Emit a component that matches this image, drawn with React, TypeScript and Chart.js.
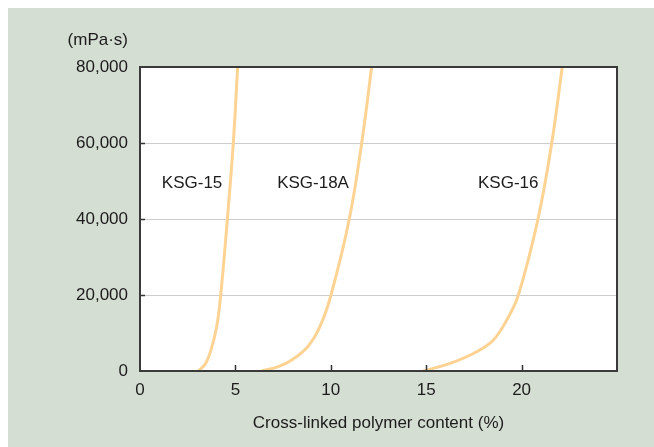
import React, { useEffect, useRef } from "react";
import { Chart, registerables } from "chart.js";

Chart.register(...registerables);

const ksg15X = [3.06, 3.44, 3.72, 4.02, 4.23, 4.58, 4.89, 5.12];
const ksg15Y = [0, 2000, 5500, 11700, 20000, 40000, 60000, 80000];
const ksg18aX = [6.38, 7.25, 7.95, 8.79, 9.43, 10.01, 10.97, 11.62, 12.14];
const ksg18aY = [0, 1130, 2900, 6400, 11660, 20000, 40000, 60000, 80000];
const ksg16X = [14.85, 16.25, 17.65, 18.52, 19.22, 19.83, 20.86, 21.58, 22.13];
const ksg16Y = [0, 2000, 5080, 8160, 13400, 20000, 40000, 60000, 80000];

const seriesNames = ["KSG-15", "KSG-18A", "KSG-16"];
const labelX = [2.73, 9.07, 19.3];
const labelY = [49500, 49500, 49500];

const xTickValues = [0, 5, 10, 15, 20];
const yTickValues = [0, 20000, 40000, 60000, 80000];
const unitLabel = "(mPa·s)";
const xTitle = "Cross-linked polymer content (%)";

const FONT = '"Liberation Sans", Arial, sans-serif';
const FONT_SIZE = 17;
const LINE_COLOR = "#fdd393";
const TEXT_COLOR = "#1c1c1c";

const toPoints = (xs: number[], ys: number[]) => xs.map((x, i) => ({ x, y: ys[i] }));

export default function App() {
  const ref = useRef<HTMLCanvasElement | null>(null);

  useEffect(() => {
    if (!ref.current) return;
    const decor = {
      id: "decor",
      beforeDraw(chart: any) {
        const { ctx, chartArea: a } = chart;
        ctx.save();
        ctx.fillStyle = "#ffffff";
        ctx.fillRect(a.left, a.top, a.right - a.left, a.bottom - a.top);
        ctx.restore();
      },
      afterDatasetsDraw(chart: any) {
        const { ctx, chartArea: a, scales } = chart;
        const xs = scales.x;
        const ys = scales.y;
        ctx.save();
        ctx.strokeStyle = "#333333";
        ctx.lineWidth = 1.5;
        xTickValues.forEach((v) => {
          if (v === 0) return;
          const px = Math.round(xs.getPixelForValue(v)) + 0.5;
          ctx.beginPath();
          ctx.moveTo(px, a.bottom);
          ctx.lineTo(px, a.bottom - 6);
          ctx.stroke();
        });
        yTickValues.forEach((v) => {
          if (v === 0 || v === 80000) return;
          const py = Math.round(ys.getPixelForValue(v)) + 0.5;
          ctx.beginPath();
          ctx.moveTo(a.left, py);
          ctx.lineTo(a.left + 5, py);
          ctx.stroke();
        });
        ctx.strokeStyle = "#3a3a3a";
        ctx.lineWidth = 2;
        ctx.strokeRect(a.left, a.top, a.right - a.left, a.bottom - a.top);
        ctx.fillStyle = TEXT_COLOR;
        ctx.font = `${FONT_SIZE}px ${FONT}`;
        ctx.textAlign = "center";
        ctx.textBaseline = "middle";
        seriesNames.forEach((n, i) => {
          ctx.fillText(n, xs.getPixelForValue(labelX[i]), ys.getPixelForValue(labelY[i]));
        });
        ctx.textAlign = "right";
        ctx.fillText(unitLabel, a.left - 12, a.top - 27);
        ctx.textAlign = "center";
        ctx.fillText(xTitle, (a.left + a.right) / 2, 415);
        ctx.restore();
      },
    };

    const chart = new Chart(ref.current, {
      type: "line",
      data: {
        datasets: [
          { label: seriesNames[0], data: toPoints(ksg15X, ksg15Y) },
          { label: seriesNames[1], data: toPoints(ksg18aX, ksg18aY) },
          { label: seriesNames[2], data: toPoints(ksg16X, ksg16Y) },
        ].map((d) => ({
          ...d,
          borderColor: LINE_COLOR,
          borderWidth: 3,
          pointRadius: 0,
          fill: false,
          tension: 0.4,
        })),
      },
      options: {
        animation: false,
        responsive: false,
        maintainAspectRatio: false,
        layout: { padding: { left: 0, top: 59, right: 37, bottom: 0 } },
        plugins: { legend: { display: false }, tooltip: { enabled: false } },
        scales: {
          x: {
            type: "linear",
            min: 0,
            max: 25,
            afterFit: (s: any) => {
              s.height = 76;
            },
            afterBuildTicks: (s: any) => {
              s.ticks = xTickValues.map((v) => ({ value: v }));
            },
            grid: { display: false, drawTicks: false },
            border: { display: false },
            ticks: {
              padding: 9,
              color: TEXT_COLOR,
              font: { family: FONT, size: FONT_SIZE },
              maxRotation: 0,
            },
          },
          y: {
            type: "linear",
            min: 0,
            max: 80000,
            afterFit: (s: any) => {
              s.width = 132;
            },
            afterBuildTicks: (s: any) => {
              s.ticks = yTickValues.map((v) => ({ value: v }));
            },
            grid: {
              color: (c: any) => (c.tick && (c.tick.value === 0 || c.tick.value === 80000) ? "rgba(0,0,0,0)" : "#cccccc"),
              lineWidth: 1,
              drawTicks: false,
            },
            border: { display: false },
            ticks: {
              padding: 12,
              color: TEXT_COLOR,
              font: { family: FONT, size: FONT_SIZE },
              callback: (v: any) => Number(v).toLocaleString("en-US"),
            },
          },
        },
      },
      plugins: [decor],
    });
    return () => chart.destroy();
  }, []);

  return (
    <div
      style={{
        position: "absolute",
        left: 8,
        top: 8,
        width: 646,
        height: 439,
        background: "#d5ded3",
      }}
    >
      <canvas ref={ref} width={646} height={439} style={{ display: "block" }} />
    </div>
  );
}
